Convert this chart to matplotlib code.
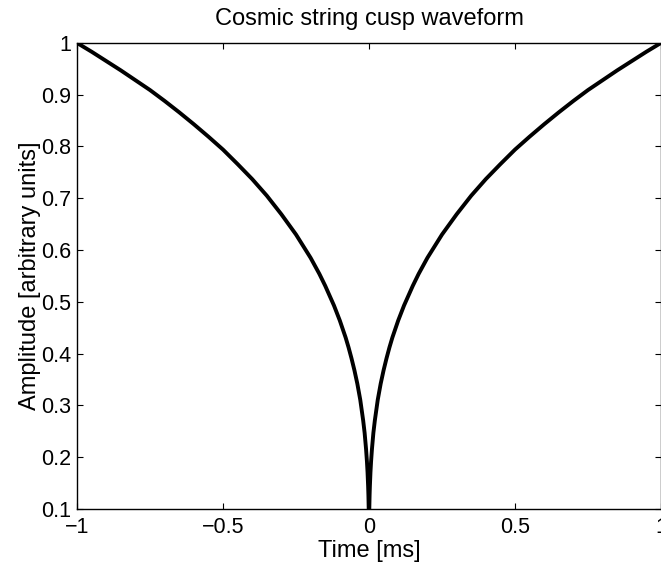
import numpy as np
import matplotlib.pyplot as plt

plt.rcParams['font.family'] = ['Liberation Sans', 'DejaVu Sans']

t_neg = [-1.0, -0.95, -0.9, -0.85, -0.8, -0.75, -0.7, -0.65, -0.6, -0.55,
         -0.5, -0.45, -0.4, -0.35, -0.3, -0.25, -0.2, -0.17, -0.15, -0.12,
         -0.1, -0.08, -0.07, -0.06, -0.05, -0.04, -0.03, -0.02, -0.015,
         -0.01, -0.007, -0.005, -0.003, -0.002, -0.001, 0.0]
amp_neg = [1.0, 0.983, 0.965, 0.947, 0.928, 0.909, 0.888, 0.866, 0.843, 0.819,
           0.794, 0.766, 0.737, 0.705, 0.669, 0.630, 0.585, 0.554, 0.531, 0.493,
           0.464, 0.431, 0.412, 0.391, 0.368, 0.342, 0.311, 0.271, 0.247,
           0.215, 0.191, 0.171, 0.144, 0.126, 0.100, 0.0]

# waveform is symmetric about t = 0
t = np.concatenate([t_neg, -np.array(t_neg[-2::-1])])
amp = np.concatenate([amp_neg, amp_neg[-2::-1]])

xticks = [-1, -0.5, 0, 0.5, 1]
yticks = [0.1, 0.2, 0.3, 0.4, 0.5, 0.6, 0.7, 0.8, 0.9, 1]

fig = plt.figure(figsize=(6.61, 5.67), dpi=100)
ax = fig.add_axes([0.1165, 0.1023, 0.8835, 0.822])

ax.plot(t, amp, color='black', lw=2.8, solid_joinstyle='round')

ax.set_xlim(-1, 1)
ax.set_ylim(0.1, 1)
ax.set_xticks(xticks)
ax.set_xticklabels(['\u22121', '\u22120.5', '0', '0.5', '1'])
ax.set_yticks(yticks)
ax.set_yticklabels(['0.1', '0.2', '0.3', '0.4', '0.5', '0.6', '0.7', '0.8', '0.9', '1'])
ax.tick_params(direction='in', length=4, width=0.8, top=True, right=True,
               labelsize=15.5)
ax.tick_params(axis='y', pad=4)
ax.tick_params(axis='x', pad=6)
for s in ax.spines.values():
    s.set_linewidth(1.0)

ax.set_title('Cosmic string cusp waveform', fontsize=17, pad=13)
ax.set_xlabel('Time [ms]', fontsize=17, labelpad=1)
ax.set_ylabel('Amplitude [arbitrary units]', fontsize=17, labelpad=0)

fig.savefig('out.png', dpi=100)
